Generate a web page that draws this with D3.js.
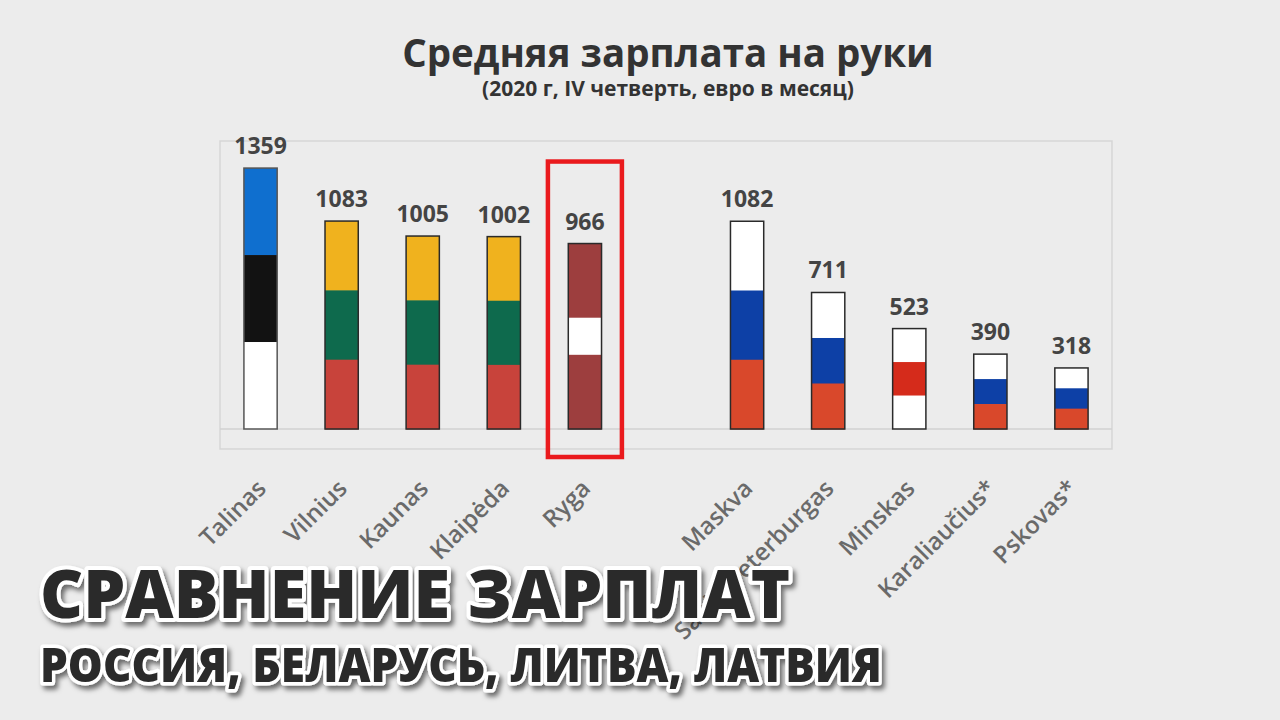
<!DOCTYPE html>
<html lang="ru">
<head>
<meta charset="utf-8">
<script src="https://cdn.jsdelivr.net/npm/d3@7"></script>
<style>
    body { margin: 0; background: #ececec; }
    svg { display: block; font-family: "Open Sans", "DejaVu Sans", sans-serif; }
</style>
</head>
<body>
<script type="text/javascript">

    /* data */
    var cities = ["Talinas", "Vilnius", "Kaunas", "Klaipėda", "Ryga", "",
                  "Maskva", "Sankt Peterburgas", "Minskas", "Karaliaučius*", "Pskovas*"];
    var salaries = [1359, 1083, 1005, 1002, 966, null, 1082, 711, 523, 390, 318];
    var countries = ["EE", "LT", "LT", "LT", "LV", null, "RU", "RU", "BY", "RU", "RU"];
    var highlighted = "Ryga";

    /* flag stripes, top to bottom: [colour, weight] */
    var flagStripes = {
        EE: [["#0f6fcf", 1], ["#121212", 1], ["#ffffff", 1]],
        LT: [["#f0b21e", 1], ["#0e6a4d", 1], ["#c8433b", 1]],
        LV: [["#9d3e3e", 2], ["#ffffff", 1], ["#9d3e3e", 2]],
        RU: [["#ffffff", 1], ["#0d40a6", 1], ["#d9482b", 1]],
        BY: [["#ffffff", 1], ["#d52b1b", 1], ["#ffffff", 1]]
    };

    var svgWidth = 1280;
    var svgHeight = 720;

    var svg = d3.select("body").append("svg")
            .attr("width", svgWidth)
            .attr("height", svgHeight);

    svg.append("rect")
            .attr("width", svgWidth)
            .attr("height", svgHeight)
            .attr("fill", "#ececec");

    /* plot box */
    var box = {left: 220, right: 1112, top: 141, bottom: 449};
    var baseY = 429;

    var x = d3.scaleBand()
            .domain(cities)
            .range([box.left, box.right])
            .paddingInner(0.59)
            .paddingOuter(0.295);

    var y = d3.scaleLinear()
            .domain([0, 1500])
            .range([baseY, box.top]);

    /* title */
    svg.append("text")
            .attr("x", 668)
            .attr("y", 67)
            .attr("text-anchor", "middle")
            .style("font-size", "38.5px")
            .style("font-weight", 700)
            .style("fill", "#333")
            .text("Средняя зарплата на руки");

    svg.append("text")
            .attr("x", 668)
            .attr("y", 96)
            .attr("text-anchor", "middle")
            .style("font-size", "21px")
            .style("font-weight", 700)
            .style("fill", "#333")
            .text("(2020 г, IV четверть, евро в месяц)");

    /* frame and base line */
    svg.append("rect")
            .attr("x", box.left)
            .attr("y", box.top)
            .attr("width", box.right - box.left)
            .attr("height", box.bottom - box.top)
            .attr("fill", "none")
            .attr("stroke", "#d6d6d6")
            .attr("stroke-width", 1.5);

    svg.append("line")
            .attr("x1", box.left)
            .attr("x2", box.right)
            .attr("y1", baseY)
            .attr("y2", baseY)
            .attr("stroke", "#d2d2d2")
            .attr("stroke-width", 1.5);

    /* bars made of flag stripes */
    var rows = cities.map(function(c, i) {
        return {city: c, value: salaries[i], country: countries[i]};
    }).filter(function(d) { return d.value != null; });

    var bars = svg.append("g")
            .selectAll("g")
            .data(rows)
            .enter()
            .append("g");

    bars.each(function(d) {
        var g = d3.select(this);
        var stripes = flagStripes[d.country];
        var total = d3.sum(stripes, function(s) { return s[1]; });
        var cum = 0;
        stripes.forEach(function(s) {
            var upper = d.value * (1 - cum / total);
            cum += s[1];
            var lower = d.value * (1 - cum / total);
            g.append("rect")
                    .attr("x", x(d.city))
                    .attr("y", y(upper))
                    .attr("width", x.bandwidth())
                    .attr("height", y(lower) - y(upper) + 0.5)
                    .attr("fill", s[0]);
        });
        g.append("rect")
                .attr("x", x(d.city))
                .attr("y", y(d.value))
                .attr("width", x.bandwidth())
                .attr("height", y(0) - y(d.value))
                .attr("fill", "none")
                .attr("stroke", d.country == "EE" ? "#555" : "#2a2a2a")
                .attr("stroke-width", 1.5);
    });

    /* value labels */
    svg.append("g")
            .selectAll("text")
            .data(rows)
            .enter()
            .append("text")
            .attr("x", function(d) { return x(d.city) + x.bandwidth() / 2; })
            .attr("y", function(d) { return y(d.value) - 14; })
            .attr("text-anchor", "middle")
            .style("font-size", "23px")
            .style("font-weight", 700)
            .style("fill", "#444")
            .text(function(d) { return d.value; });

    /* highlight box round Ryga */
    var hx = x(highlighted) + x.bandwidth() / 2;
    var hv = salaries[cities.indexOf(highlighted)];
    svg.append("rect")
            .attr("x", hx - 37)
            .attr("y", y(hv) - 82)
            .attr("width", 74)
            .attr("height", baseY + 28 - (y(hv) - 82))
            .attr("fill", "none")
            .attr("stroke", "#ea1a1d")
            .attr("stroke-width", 4.5);

    /* category axis */
    var xAxis = svg.append("g")
            .call(d3.axisBottom(x).tickSize(0));

    xAxis.select(".domain").remove();

    xAxis.selectAll("text")
            .attr("x", 0)
            .attr("y", 0)
            .attr("dy", 0)
            .attr("text-anchor", "end")
            .attr("transform", "translate(7, 490) rotate(-45)")
            .style("font-family", "'Open Sans', sans-serif")
            .style("font-size", "24px")
            .style("font-weight", 600)
            .style("fill", "#6a6a6a");

    /* overlay headline */
    var defs = svg.append("defs");
    var shadow = defs.append("filter")
            .attr("id", "shadow")
            .attr("x", "-5%").attr("y", "-20%")
            .attr("width", "115%").attr("height", "160%");
    shadow.append("feDropShadow")
            .attr("dx", 3)
            .attr("dy", 4)
            .attr("stdDeviation", 2.5)
            .attr("flood-color", "#000")
            .attr("flood-opacity", 0.55);

    var headline = svg.append("g").attr("filter", "url(#shadow)");

    headline.append("text")
            .attr("x", 40)
            .attr("y", 618)
            .attr("textLength", 750)
            .attr("lengthAdjust", "spacingAndGlyphs")
            .style("font-size", "67px")
            .style("font-weight", 800)
            .style("fill", "#2b2b2b")
            .style("stroke", "#fff")
            .style("stroke-width", 8)
            .style("stroke-linejoin", "round")
            .style("paint-order", "stroke")
            .text("СРАВНЕНИЕ ЗАРПЛАТ");

    headline.append("text")
            .attr("x", 40)
            .attr("y", 682)
            .attr("textLength", 842)
            .attr("lengthAdjust", "spacingAndGlyphs")
            .style("font-size", "48px")
            .style("font-weight", 800)
            .style("fill", "#2b2b2b")
            .style("stroke", "#fff")
            .style("stroke-width", 7)
            .style("stroke-linejoin", "round")
            .style("paint-order", "stroke")
            .text("РОССИЯ, БЕЛАРУСЬ, ЛИТВА, ЛАТВИЯ");

</script>
</body>
</html>
